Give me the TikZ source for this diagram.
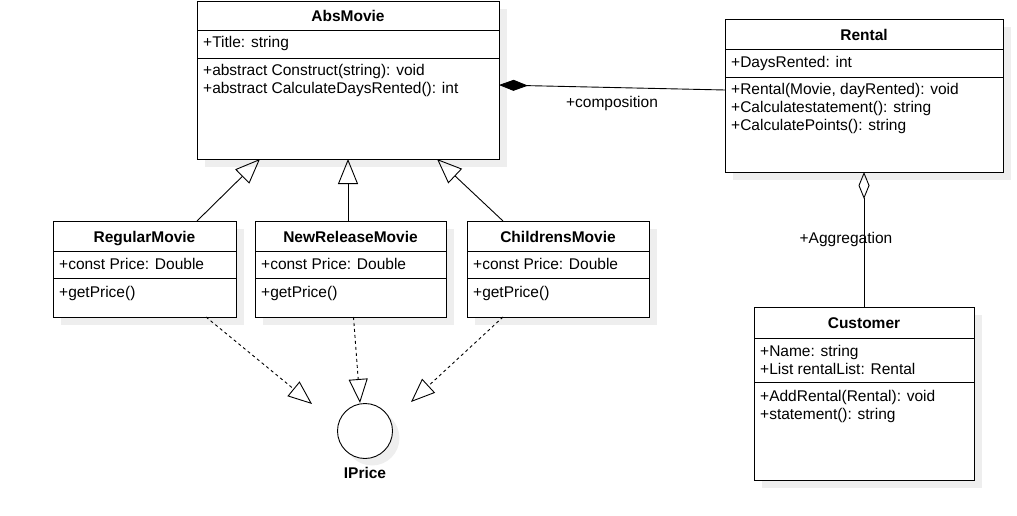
\documentclass[tikz,border=0pt]{standalone}
\usepackage{fontspec}
\setmainfont{Liberation Sans}
\usetikzlibrary{arrows.meta,backgrounds}
\definecolor{shadowgray}{RGB}{238,238,238}
\begin{document}
\begin{tikzpicture}[x=1pt,y=-1pt,
  font=\fontsize{15.5}{18}\selectfont,
  umlbox/.style={draw, line width=0.9pt, fill=white, inner sep=0pt, outer sep=0pt, anchor=north west},
  sepline/.style={line width=0.9pt},
  ttl/.style={font=\fontsize{15.5}{18}\selectfont\bfseries, anchor=base, inner sep=0pt},
  txt/.style={anchor=base west, inner sep=0pt},
  lbl/.style={anchor=base, inner sep=0pt},
  conn/.style={line width=0.9pt},
  inherit/.style={conn, -{Triangle[open,length=25pt,width=20pt,line width=0.9pt]}},
  realize/.style={conn, dash pattern=on 3pt off 3pt, -{Triangle[open,length=24pt,width=19pt,line width=0.9pt]}},
  comp/.style={conn, {Diamond[length=29pt,width=11pt]}-},
  aggr/.style={conn, {Diamond[open,length=27pt,width=11pt,line width=0.9pt]}-},
  shadowfill/.style={fill=shadowgray, draw=none}
]
\useasboundingbox (0,0) rectangle (1017,516);

% ---------- class boxes ----------
\node[umlbox, minimum width=302pt, minimum height=158pt] (abs) at (197,1) {};
\node[umlbox, minimum width=278pt, minimum height=153pt] (rental) at (725,19) {};
\node[umlbox, minimum width=220pt, minimum height=173pt] (cust) at (754,307) {};
\node[umlbox, minimum width=183pt, minimum height=96pt] (reg) at (53,221) {};
\node[umlbox, minimum width=191pt, minimum height=96pt] (nrm) at (255,221) {};
\node[umlbox, minimum width=182pt, minimum height=96pt] (chm) at (467,221) {};
\node[circle, draw, line width=0.9pt, fill=white, minimum size=55pt, inner sep=0pt, outer sep=0pt] (iprice) at (365,431) {};

% ---------- shadows ----------
\begin{scope}[on background layer]
  \foreach \b in {abs,rental,cust,reg,nrm,chm}{
    \fill[shadowfill] ([shift={(8pt,-8pt)}]\b.north west) rectangle ([shift={(8pt,-8pt)}]\b.south east);
  }
  \fill[shadowfill] ([shift={(7pt,-7pt)}]iprice.center) circle (27.5pt);
\end{scope}

% ---------- separators ----------
\draw[sepline] ([yshift=-29pt]abs.north west) -- ([yshift=-29pt]abs.north east);
\draw[sepline] ([yshift=-57pt]abs.north west) -- ([yshift=-57pt]abs.north east);
\draw[sepline] ([yshift=-30pt]rental.north west) -- ([yshift=-30pt]rental.north east);
\draw[sepline] ([yshift=-58pt]rental.north west) -- ([yshift=-58pt]rental.north east);
\draw[sepline] ([yshift=-31pt]cust.north west) -- ([yshift=-31pt]cust.north east);
\draw[sepline] ([yshift=-75pt]cust.north west) -- ([yshift=-75pt]cust.north east);
\foreach \b in {reg,nrm,chm}{
  \draw[sepline] ([yshift=-30pt]\b.north west) -- ([yshift=-30pt]\b.north east);
  \draw[sepline] ([yshift=-57pt]\b.north west) -- ([yshift=-57pt]\b.north east);
}

% ---------- texts ----------
\node[ttl] (absT) at (348,21.5) {AbsMovie};
\node[txt] (absA) at (203,48) {+Title: string};
\node[txt] (absM1) at (203,76) {+abstract Construct(string): void};
\node[txt] (absM2) at (203,94) {+abstract CalculateDaysRented(): int};

\node[ttl] (renT) at (864,40.5) {Rental};
\node[txt] (renA) at (731,68) {+DaysRented: int};
\node[txt] (renM1) at (731,95) {+Rental(Movie, dayRented): void};
\node[txt] (renM2) at (731,113) {+Calculatestatement(): string};
\node[txt] (renM3) at (731,131) {+CalculatePoints(): string};

\node[ttl] (cusT) at (864,328) {Customer};
\node[txt] (cusA1) at (760,356.5) {+Name: string};
\node[txt] (cusA2) at (760,374.5) {+List rentalList: Rental};
\node[txt] (cusM1) at (760,401.5) {+AddRental(Rental): void};
\node[txt] (cusM2) at (760,419.5) {+statement(): string};

\node[ttl] (regT) at (144.5,242) {RegularMovie};
\node[txt] (regA) at (59,269) {+const Price: Double};
\node[txt] (regM) at (59,297) {+getPrice()};

\node[ttl] (nrmT) at (350.5,242) {NewReleaseMovie};
\node[txt] (nrmA) at (261,269) {+const Price: Double};
\node[txt] (nrmM) at (261,297) {+getPrice()};

\node[ttl] (chmT) at (558,242) {ChildrensMovie};
\node[txt] (chmA) at (473,269) {+const Price: Double};
\node[txt] (chmM) at (473,297) {+getPrice()};

\node[ttl] (ipT) at (365,478) {IPrice};

% ---------- connectors ----------
\draw[comp] ([yshift=-84pt]abs.north east) -- ([yshift=-71pt]rental.north west);
\node[lbl] (compL) at (612,108) {+composition};

\draw[aggr] (rental.south) -- (cust.north);
\node[lbl] (aggrL) at (846,243) {+Aggregation};

\draw[inherit] ([xshift=52.5pt]reg.north) -- ([xshift=-88pt]abs.south);
\draw[inherit] (abs.south |- nrm.north) -- (abs.south);
\draw[inherit] ([xshift=-55pt]chm.north) -- ([xshift=89pt]abs.south);

\coordinate (tipL) at (312,404);
\coordinate (tipM) at (360,403);
\coordinate (tipR) at (411,402);
\draw[realize] ([xshift=61.5pt]reg.south) -- (tipL);
\draw[realize] ([xshift=3pt]nrm.south) -- (tipM);
\draw[realize] ([xshift=-55pt]chm.south) -- (tipR);
\end{tikzpicture}
\end{document}
